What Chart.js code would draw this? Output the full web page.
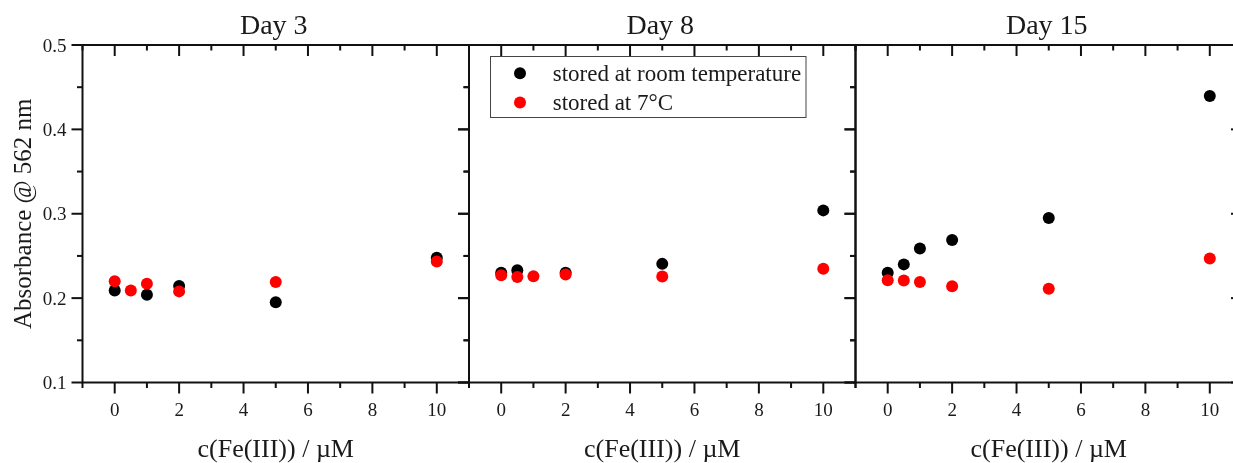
<!DOCTYPE html>
<html>
<head>
<meta charset="utf-8">
<script src="https://cdn.jsdelivr.net/npm/chart.js@4.4.1/dist/chart.umd.min.js"></script>
<style>
  html, body { margin: 0; padding: 0; background: #fff; }
  #wrap { position: relative; width: 1233px; height: 463px; overflow: hidden; }
  #wrap canvas { position: absolute; left: 0; top: 0; }
</style>
</head>
<body>
<div id="wrap">
  <canvas id="c0" width="1250" height="463"></canvas>
  <canvas id="c1" width="1250" height="463"></canvas>
  <canvas id="c2" width="1250" height="463"></canvas>
</div>
<script>
// values (null = point not visible)
const concentrations = [0, 0.5, 1, 2, 5, 10];
const days = ['Day 3', 'Day 8', 'Day 15'];
const roomDay3 = [0.209, null, 0.204, 0.2145, 0.195, 0.248];
const coldDay3 = [0.220, 0.209, 0.217, 0.208, 0.219, 0.2434];
const roomDay8 = [0.230, 0.233, null, 0.230, 0.2406, 0.304];
const coldDay8 = [0.227, 0.225, 0.226, 0.228, 0.2256, 0.2347];
const roomDay15 = [0.230, 0.240, 0.2588, 0.269, 0.295, 0.4395];
const coldDay15 = [0.2212, 0.221, 0.2192, 0.214, 0.211, 0.247];
const xTickLabels = [0, 2, 4, 6, 8, 10];
const yTickLabels = [0.1, 0.2, 0.3, 0.4, 0.5];
const seriesNames = ['stored at room temperature', 'stored at 7°C'];
const seriesColors = ['#000000', '#ff0000'];

const panelLeft = [82.5, 469, 855.5];
const panelWidth = 386.5;
const FONT = '"Liberation Serif", "Times New Roman", serif';
const INK = '#1a1a1a';

function toPoints(vals) {
  const pts = [];
  vals.forEach((v, i) => { if (v !== null) pts.push({ x: concentrations[i], y: v }); });
  return pts;
}

const framePlugin = {
  id: 'frame',
  afterDraw(chart) {
    const { ctx, chartArea: a, scales: { x, y } } = chart;
    const idx = chart.options.plugins.frame.panel;
    ctx.save();
    ctx.strokeStyle = '#111';
    ctx.lineWidth = 2;
    ctx.strokeRect(a.left, a.top, a.right - a.left, a.bottom - a.top);

    function seg(x1, y1, x2, y2) {
      ctx.beginPath(); ctx.moveTo(x1, y1); ctx.lineTo(x2, y2); ctx.stroke();
    }
    // x ticks: major every 2, minor every 1
    for (let v = x.min; v <= x.max; v++) {
      const px = x.getPixelForValue(v);
      const len = v % 2 === 0 ? 11 : 5.5;
      seg(px, a.bottom, px, a.bottom + len);
      seg(px, a.top, px, a.top + len);
    }
    // y ticks: major every 0.1, minor every 0.05
    for (let k = 0; k <= 8; k++) {
      const py = y.getPixelForValue(y.min + k * 0.05);
      const len = k % 2 === 0 ? 11 : 5.5;
      seg(a.left - len, py, a.left, py);
      seg(a.right - len, py, a.right, py);
    }

    ctx.fillStyle = INK;
    ctx.font = '19px ' + FONT;
    ctx.textAlign = 'center';
    ctx.textBaseline = 'alphabetic';
    xTickLabels.forEach(v => ctx.fillText(String(v), x.getPixelForValue(v), 416));

    if (idx === 0) {
      ctx.textAlign = 'right';
      yTickLabels.forEach(v => ctx.fillText(v.toFixed(1), a.left - 16, y.getPixelForValue(v) + 6.5));
      ctx.save();
      ctx.font = '25px ' + FONT;
      ctx.translate(31, (a.top + a.bottom) / 2);
      ctx.rotate(-Math.PI / 2);
      ctx.textAlign = 'center';
      ctx.fillText('Absorbance @ 562 nm', 0, 0);
      ctx.restore();
    }

    const cx = (a.left + a.right) / 2;
    ctx.textAlign = 'center';
    ctx.font = '28px ' + FONT;
    ctx.fillText(days[idx], cx - 2, 34);
    ctx.font = '26px ' + FONT;
    ctx.fillText('c(Fe(III)) / µM', cx, 456.5);

    if (idx === 1) {
      ctx.lineWidth = 1;
      ctx.strokeStyle = '#444';
      ctx.strokeRect(490.5, 56.5, 315.5, 61);
      ctx.font = '23px ' + FONT;
      ctx.textAlign = 'left';
      [80.7, 110].forEach((base, s) => {
        ctx.fillStyle = seriesColors[s];
        ctx.beginPath();
        ctx.arc(520, base - 7.5, 6, 0, Math.PI * 2);
        ctx.fill();
        ctx.fillStyle = INK;
        ctx.fillText(seriesNames[s], 552.7, base);
      });
    }
    ctx.restore();
  }
};

function makePanel(idx, room, cold) {
  const left = panelLeft[idx];
  new Chart(document.getElementById('c' + idx), {
    type: 'scatter',
    data: {
      datasets: [
        { label: seriesNames[0], data: toPoints(room), backgroundColor: seriesColors[0], order: 2 },
        { label: seriesNames[1], data: toPoints(cold), backgroundColor: seriesColors[1], order: 1 }
      ]
    },
    options: {
      responsive: false,
      animation: false,
      events: [],
      layout: { padding: { left: left, right: 1250 - left - panelWidth, top: 45, bottom: 463 - 382.5 } },
      elements: { point: { radius: 6, borderWidth: 0, hoverRadius: 6 } },
      scales: {
        x: { type: 'linear', min: -1, max: 11, display: false },
        y: { type: 'linear', min: 0.1, max: 0.5, display: false }
      },
      plugins: {
        legend: { display: false },
        tooltip: { enabled: false },
        frame: { panel: idx }
      }
    },
    plugins: [framePlugin]
  });
}

makePanel(0, roomDay3, coldDay3);
makePanel(1, roomDay8, coldDay8);
makePanel(2, roomDay15, coldDay15);
</script>
</body>
</html>
